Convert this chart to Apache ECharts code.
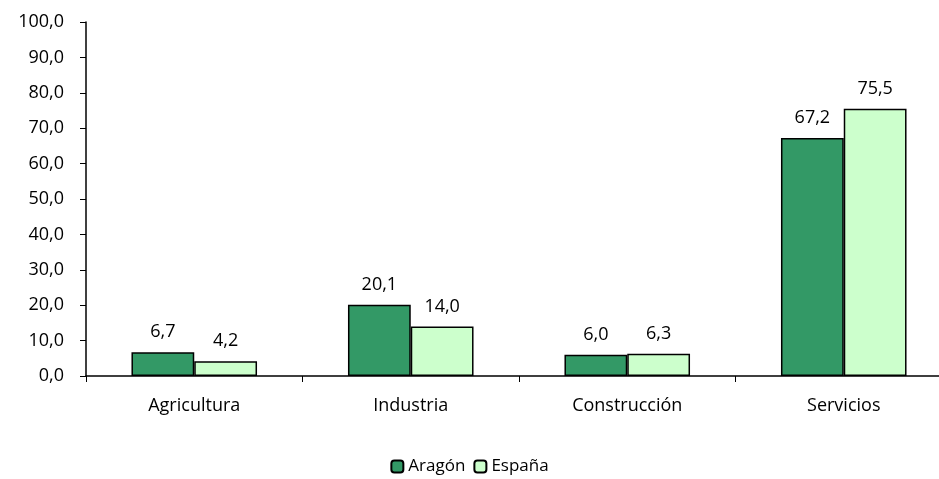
<!DOCTYPE html>
<html>
<head>
<meta charset="utf-8">
<script src="https://cdn.jsdelivr.net/npm/echarts@6/dist/echarts.min.js"></script>
<style>
  html, body { margin: 0; padding: 0; background: #fff; }
  #main { width: 939px; height: 479px; }
</style>
</head>
<body>
<div id="main"></div>
<script>
var categories = ['Agricultura', 'Industria', 'Construcción', 'Servicios'];
var aragon = [6.7, 20.1, 6.0, 67.2];
var espana = [4.2, 14.0, 6.3, 75.5];
var seriesNames = ['Aragón', 'España'];

var chart = echarts.init(document.getElementById('main'));
var fmt = function (v) { return v.toFixed(1).replace('.', ','); };
var labelStyle = {
  show: true,
  position: 'top',
  distance: 11,
  fontFamily: 'Open Sans',
  fontSize: 18,
  color: '#000',
  formatter: function (p) { return fmt(p.value); }
};

var option = {
  animation: false,
  textStyle: { fontFamily: 'Open Sans' },
  grid: { left: 86, top: 22, width: 866, height: 354, outerBoundsMode: 'none', containLabel: false },
  legend: {
    bottom: -1,
    left: 'center',
    itemWidth: 12,
    itemHeight: 12,
    itemGap: 8,
    itemStyle: { borderWidth: 2 },
    textStyle: { fontSize: 17, color: '#000', padding: [0, 0, 0, 0] },
    data: seriesNames
  },
  xAxis: {
    type: 'category',
    data: categories,
    axisLine: { lineStyle: { color: '#000', width: 1.5 } },
    axisTick: { show: true, length: 6, lineStyle: { color: '#000' } },
    axisLabel: { color: '#000', fontSize: 18, margin: 21 }
  },
  yAxis: {
    type: 'value',
    min: 0,
    max: 100,
    interval: 10,
    axisLine: { show: true, lineStyle: { color: '#000', width: 1.5 } },
    axisTick: { show: true, length: 6, lineStyle: { color: '#000' } },
    splitLine: { show: false },
    axisLabel: { color: '#000', fontSize: 18, margin: 22, formatter: fmt }
  },
  series: [
    {
      name: seriesNames[0],
      type: 'bar',
      data: aragon,
      barGap: '0%',
      barCategoryGap: '42%',
      itemStyle: { color: '#339966', borderColor: '#000', borderWidth: 1.5 },
      label: labelStyle
    },
    {
      name: seriesNames[1],
      type: 'bar',
      data: espana,
      itemStyle: { color: '#CCFFCC', borderColor: '#000', borderWidth: 1.5 },
      label: labelStyle
    }
  ]
};
chart.setOption(option);
</script>
</body>
</html>
